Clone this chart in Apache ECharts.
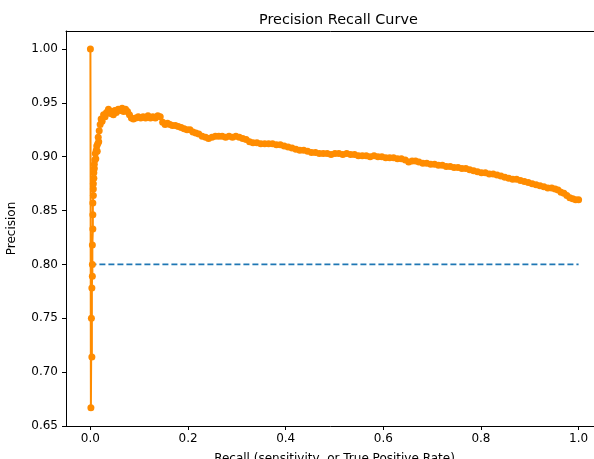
<!DOCTYPE html>
<html>
<head>
<meta charset="utf-8">
<script src="https://cdn.jsdelivr.net/npm/echarts@6/dist/echarts.min.js"></script>
<style>
  html, body { margin: 0; padding: 0; background: #fff; }
  #chart { width: 594px; height: 459px; }
</style>
</head>
<body>
<div id="chart"></div>
<script>
// precision / recall pairs
const recall = [
  0.000, 0.001, 0.002, 0.003, 0.003, 0.004, 0.004, 0.004, 0.005, 0.005,
  0.005, 0.006, 0.006, 0.006, 0.007, 0.007, 0.008, 0.008, 0.009, 0.010,
  0.011, 0.012, 0.013, 0.014, 0.015, 0.016, 0.017, 0.018, 0.020, 0.022,
  0.024, 0.027, 0.030, 0.033, 0.037, 0.041, 0.044, 0.047, 0.050, 0.053,
  0.057, 0.061, 0.065, 0.068, 0.072, 0.076, 0.080, 0.084, 0.088, 0.093,
  0.098, 0.103, 0.108, 0.113, 0.118, 0.123, 0.128, 0.133, 0.138, 0.143,
  0.148, 0.153, 0.158, 0.163, 0.168, 0.174, 0.180, 0.186, 0.192, 0.198,
  0.204, 0.210, 0.216, 0.222, 0.229, 0.236, 0.242, 0.249, 0.256, 0.263,
  0.270, 0.277, 0.284, 0.291, 0.298, 0.305, 0.312, 0.319, 0.326, 0.333,
  0.341, 0.349, 0.357, 0.365, 0.373, 0.381, 0.389, 0.397, 0.405, 0.413,
  0.421, 0.429, 0.437, 0.445, 0.453, 0.461, 0.469, 0.477, 0.485, 0.493,
  0.501, 0.509, 0.517, 0.525, 0.533, 0.541, 0.549, 0.557, 0.565, 0.573,
  0.581, 0.589, 0.597, 0.605, 0.613, 0.621, 0.629, 0.637, 0.645, 0.652,
  0.659, 0.666, 0.673, 0.681, 0.689, 0.697, 0.705, 0.713, 0.721, 0.729,
  0.737, 0.745, 0.753, 0.761, 0.769, 0.777, 0.785, 0.793, 0.801, 0.809,
  0.817, 0.825, 0.833, 0.841, 0.849, 0.857, 0.865, 0.873, 0.881, 0.889,
  0.897, 0.905, 0.913, 0.921, 0.929, 0.937, 0.945, 0.952, 0.958, 0.964,
  0.970, 0.976, 0.982, 0.988, 0.994, 1.000
]
const precision = [
  1.000, 0.667, 0.750, 0.714, 0.778, 0.800, 0.789, 0.818, 0.833, 0.846,
  0.857, 0.864, 0.870, 0.875, 0.880, 0.885, 0.889, 0.893, 0.897, 0.903,
  0.898, 0.906, 0.910, 0.905, 0.912, 0.918, 0.914, 0.924, 0.930, 0.935,
  0.933, 0.939, 0.937, 0.941, 0.944, 0.940, 0.942, 0.939, 0.943, 0.941,
  0.944, 0.943, 0.945, 0.942, 0.944, 0.942, 0.939, 0.936, 0.935, 0.936,
  0.937, 0.936, 0.937, 0.936, 0.938, 0.936, 0.937, 0.936, 0.938, 0.937,
  0.932, 0.930, 0.931, 0.930, 0.929, 0.929, 0.928, 0.927, 0.926, 0.925,
  0.925, 0.923, 0.922, 0.921, 0.919, 0.918, 0.917, 0.918, 0.919, 0.919,
  0.919, 0.918, 0.919, 0.918, 0.919, 0.918, 0.917, 0.916, 0.914, 0.913,
  0.913, 0.912, 0.912, 0.912, 0.912, 0.911, 0.911, 0.910, 0.909, 0.908,
  0.907, 0.906, 0.906, 0.905, 0.904, 0.904, 0.903, 0.903, 0.903, 0.902,
  0.903, 0.903, 0.902, 0.903, 0.902, 0.902, 0.901, 0.901, 0.901, 0.900,
  0.901, 0.900, 0.900, 0.899, 0.899, 0.899, 0.898, 0.898, 0.897, 0.895,
  0.896, 0.896, 0.895, 0.894, 0.894, 0.893, 0.893, 0.892, 0.892, 0.891,
  0.891, 0.890, 0.890, 0.889, 0.889, 0.888, 0.887, 0.886, 0.885, 0.885,
  0.884, 0.884, 0.883, 0.882, 0.881, 0.880, 0.879, 0.879, 0.878, 0.877,
  0.876, 0.875, 0.874, 0.873, 0.872, 0.871, 0.871, 0.870, 0.869, 0.867,
  0.866, 0.864, 0.862, 0.861, 0.860, 0.860
]
// no-skill reference line
const baselineX = [0, 1]
const baselineY = [0.8, 0.8]

const xTicks = [0, 0.2, 0.4, 0.6, 0.8, 1.0]
const yTicks = [0.65, 0.70, 0.75, 0.80, 0.85, 0.90, 0.95, 1.00]

const font = 'DejaVu Sans'
const spine = { show: true, onZero: false, lineStyle: { color: '#000', width: 1 } }
const chart = echarts.init(document.getElementById('chart'))

chart.setOption({
  animation: false,
  title: {
    text: 'Precision Recall Curve',
    left: 254,
    top: 8,
    textStyle: { fontFamily: font, fontSize: 14.4, fontWeight: 'normal', color: '#000' }
  },
  grid: {
    left: 66,
    top: 31,
    width: 537,
    height: 395,
    outerBoundsMode: 'none',
    show: false
  },
  xAxis: [{
    type: 'value',
    min: -0.05,
    max: 1.05,
    name: 'Recall (sensitivity, or True Positive Rate)',
    nameLocation: 'middle',
    nameGap: 27,
    nameTextStyle: { fontFamily: font, fontSize: 12, color: '#000' },
    axisLine: spine,
    splitLine: { show: false },
    axisTick: { show: true, length: 4, lineStyle: { color: '#000' }, customValues: xTicks },
    axisLabel: {
      customValues: xTicks,
      margin: 7,
      fontFamily: font, fontSize: 12, color: '#000',
      formatter: v => v.toFixed(1)
    }
  }, {
    // top spine only
    type: 'value',
    position: 'top',
    min: -0.05,
    max: 1.05,
    axisLine: spine,
    axisTick: { show: false },
    axisLabel: { show: false },
    splitLine: { show: false }
  }],
  yAxis: {
    type: 'value',
    min: 0.65,
    max: 1.0167,
    name: 'Precision',
    nameLocation: 'middle',
    nameRotate: 90,
    nameGap: 48,
    nameTextStyle: { fontFamily: font, fontSize: 12, color: '#000' },
    axisLine: spine,
    splitLine: { show: false },
    axisTick: { show: true, length: 4, lineStyle: { color: '#000' }, customValues: yTicks },
    axisLabel: {
      customValues: yTicks,
      margin: 8,
      fontFamily: font, fontSize: 12, color: '#000',
      formatter: v => v.toFixed(2)
    }
  },
  series: [
    {
      type: 'line',
      data: baselineX.map((x, i) => [x, baselineY[i]]),
      showSymbol: false,
      lineStyle: { color: '#1f77b4', width: 1.6, type: [6, 3] },
      z: 2
    },
    {
      type: 'line',
      data: recall.map((x, i) => [x, precision[i]]),
      symbol: 'circle',
      symbolSize: 7,
      itemStyle: { color: '#ff8c00' },
      lineStyle: { color: '#ff8c00', width: 2 },
      z: 3
    }
  ]
})
</script>
</body>
</html>
